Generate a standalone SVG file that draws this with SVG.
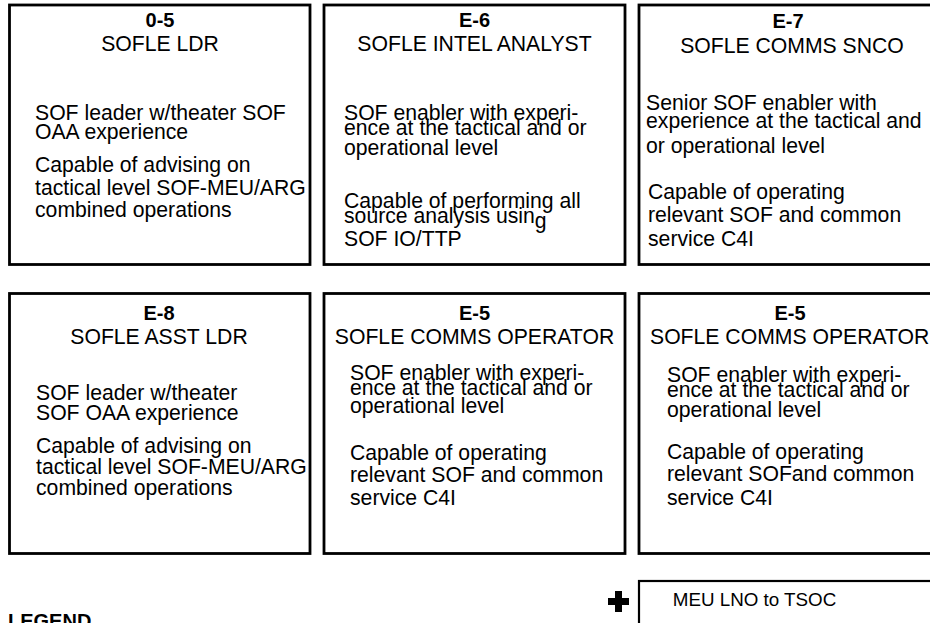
<svg xmlns="http://www.w3.org/2000/svg" width="930" height="623" viewBox="0 0 930 623">
<style>
.box{fill:#fff;stroke:#000;stroke-width:2.8}
.t{font-family:"Liberation Sans",Arial,sans-serif;font-size:21.2px;fill:#000}
.h{font-family:"Liberation Sans",Arial,sans-serif;font-size:20px;font-weight:bold;fill:#000}
.c{text-anchor:middle}
</style>
<rect width="930" height="623" fill="#fff"/>
<g id="connectors"></g>
<g id="node-o5">
<rect class="box" x="9.5" y="5" width="300.5" height="259.5"/>
<text class="h c" x="160" y="27">0-5</text>
<text class="t c" x="160" y="51">SOFLE LDR</text>
<text class="t" x="35" y="120">SOF leader w/theater SOF</text>
<text class="t" x="35" y="139">OAA experience</text>
<text class="t" x="35" y="172">Capable of advising on</text>
<text class="t" x="35" y="195">tactical level SOF-MEU/ARG</text>
<text class="t" x="35" y="217">combined operations</text>
</g>
<g id="node-e6">
<rect class="box" x="324" y="5" width="301" height="259.5"/>
<text class="h c" x="474.5" y="27">E-6</text>
<text class="t c" x="474.5" y="51">SOFLE INTEL ANALYST</text>
<text class="t" x="344" y="120">SOF enabler with experi-</text>
<text class="t" x="344" y="134.5">ence at the tactical and or</text>
<text class="t" x="344" y="155">operational level</text>
<text class="t" x="344" y="208">Capable of performing all</text>
<text class="t" x="344" y="222.5">source analysis usin<tspan dy="5">g</tspan></text>
<text class="t" x="344" y="246">SOF IO/TTP</text>
</g>
<g id="node-e7">
<rect class="box" x="639" y="5" width="300" height="259.5"/>
<text class="h c" x="788" y="28">E-7</text>
<text class="t c" x="792" y="53">SOFLE COMMS SNCO</text>
<text class="t" x="646" y="110">Senior SOF enabler with</text>
<text class="t" x="646" y="128">experience at the tactical and</text>
<text class="t" x="646" y="153">or operational level</text>
<text class="t" x="648" y="199">Capable of operating</text>
<text class="t" x="648" y="222">relevant SOF and common</text>
<text class="t" x="648" y="246">service C4I</text>
</g>
<g id="node-e8">
<rect class="box" x="9.5" y="293.5" width="300.5" height="260"/>
<text class="h c" x="159" y="320">E-8</text>
<text class="t c" x="159" y="344">SOFLE ASST LDR</text>
<text class="t" x="36" y="400">SOF leader w/theater</text>
<text class="t" x="36" y="420">SOF OAA experience</text>
<text class="t" x="36" y="453">Capable of advising on</text>
<text class="t" x="36" y="474">tactical level SOF-MEU/ARG</text>
<text class="t" x="36" y="495">combined operations</text>
</g>
<g id="node-e5a">
<rect class="box" x="324" y="293.5" width="301" height="260"/>
<text class="h c" x="474.5" y="320">E-5</text>
<text class="t c" x="474.5" y="344">SOFLE COMMS OPERATOR</text>
<text class="t" x="350" y="380">SOF enabler with experi-</text>
<text class="t" x="350" y="394.5">ence at the tactical and or</text>
<text class="t" x="350" y="413">operational level</text>
<text class="t" x="350" y="460">Capable of operating</text>
<text class="t" x="350" y="482">relevant SOF and common</text>
<text class="t" x="350" y="505">service C4I</text>
</g>
<g id="node-e5b">
<rect class="box" x="639" y="293.5" width="300" height="260"/>
<text class="h c" x="790" y="320">E-5</text>
<text class="t" x="650" y="344">SOFLE COMMS OPERATOR</text>
<text class="t" x="667" y="382">SOF enabler with experi-</text>
<text class="t" x="667" y="396.5">ence at the tactical and or</text>
<text class="t" x="667" y="417">operational level</text>
<text class="t" x="667" y="459">Capable of operating</text>
<text class="t" x="667" y="481">relevant SOFand common</text>
<text class="t" x="667" y="505">service C4I</text>
</g>
<g id="node-meu">
<rect class="box" x="639" y="581" width="300" height="60" style="stroke-width:2.2"/>
<text class="t" x="754.5" y="606" style="font-size:18.8px" text-anchor="middle">MEU LNO to TSOC</text>
</g>
<g id="plus">
<rect x="608" y="598" width="21" height="7" fill="#000"/>
<rect x="615" y="591" width="7" height="21" fill="#000"/>
</g>
<text class="h" x="8" y="628">LEGEND</text>
</svg>
